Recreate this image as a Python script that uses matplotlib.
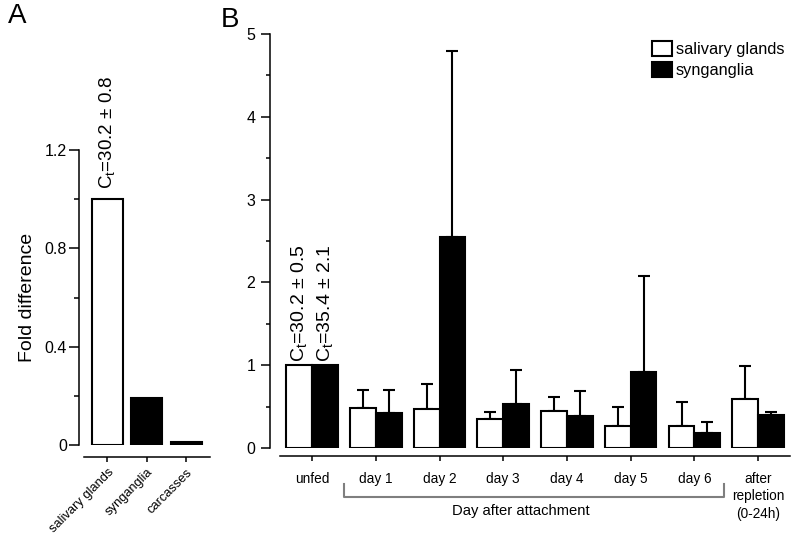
import matplotlib
matplotlib.use("Agg")
import matplotlib.pyplot as plt
import matplotlib.patches as mpatches
from matplotlib.ticker import MultipleLocator
import matplotlib.transforms as mtransforms
import numpy as np

plt.rcParams["font.family"] = ["Liberation Sans", "DejaVu Sans"]
plt.rcParams["mathtext.fontset"] = "custom"
plt.rcParams["mathtext.rm"] = "Liberation Sans"
plt.rcParams["mathtext.it"] = "Liberation Sans"
plt.rcParams["mathtext.default"] = "regular"

# ── Data ──────────────────────────────────────────────────────────────
# panel A: tissue distribution
tissues = ["salivary glands", "synganglia", "carcasses"]
tissue_fold = [1.0, 0.19, 0.012]
tissue_ct = "C$_t$=30.2 ± 0.8"

# panel B: time course
timepoints = ["unfed", "day 1", "day 2", "day 3", "day 4", "day 5", "day 6",
              "after\nrepletion\n(0-24h)"]
sg_mean = [1.0, 0.48, 0.47, 0.35, 0.45, 0.26, 0.26, 0.59]
sg_err = [0.0, 0.22, 0.30, 0.08, 0.17, 0.23, 0.29, 0.40]
syn_mean = [1.0, 0.42, 2.55, 0.53, 0.39, 0.92, 0.18, 0.40]
syn_err = [0.0, 0.28, 2.25, 0.41, 0.30, 1.16, 0.13, 0.03]
unfed_ct = ["C$_t$=30.2 ± 0.5", "C$_t$=35.4 ± 2.1"]
series = ["salivary glands", "synganglia"]
bracket_label = "Day after attachment"

W, H = 800, 536
fig = plt.figure(figsize=(W / 100, H / 100), dpi=100)

def px_axes(x0, y0, x1, y1):
    # pixel box (left, top, right, bottom) -> figure fraction
    return fig.add_axes([x0 / W, 1 - y1 / H, (x1 - x0) / W, (y1 - y0) / H])

def style_axes(ax, ytop, offset_px, xlo, xhi):
    for s in ("top", "right"):
        ax.spines[s].set_visible(False)
    ax.spines["left"].set_bounds(0, ytop)
    ax.spines["bottom"].set_position(("outward", offset_px * 0.72))
    ax.spines["bottom"].set_bounds(xlo, xhi)
    for s in ("left", "bottom"):
        ax.spines[s].set_linewidth(1.1)

# ── Panel A ───────────────────────────────────────────────────────────
axA = px_axes(79, 150, 210, 445)
xa = np.arange(len(tissues))
axA.bar(xa, tissue_fold, width=0.79, color=["white", "black", "black"],
        edgecolor="black", linewidth=1.5, zorder=3)
axA.set_xlim(-0.725, 2.61)
axA.set_ylim(0, 1.2)
style_axes(axA, 1.2, 12, -0.60, 2.61)
axA.yaxis.set_minor_locator(MultipleLocator(0.2))
axA.set_yticks([0, 0.4, 0.8, 1.2])
axA.set_yticklabels(["0", "0.4", "0.8", "1.2"])
axA.tick_params(axis="y", which="major", length=7.2, width=1.1, pad=1.5, labelsize=11.5)
axA.tick_params(axis="y", which="minor", length=3.6, width=1.1)
axA.set_xticks(xa)
axA.set_xticklabels(tissues, rotation=45, ha="right", rotation_mode="anchor", fontsize=9.3)
axA.tick_params(axis="x", length=3.6, width=1.1, pad=3)
axA.set_ylabel("Fold difference", fontsize=14, labelpad=6)
axA.text(xa[0], tissue_fold[0] + 0.04, tissue_ct, rotation=90, ha="center",
         va="bottom", fontsize=13.5, clip_on=False)

# ── Panel B ───────────────────────────────────────────────────────────
axB = px_axes(270, 34, 790, 448)
xb = np.arange(len(timepoints))
bw = 0.405
axB.bar(xb - bw / 2, sg_mean, width=bw, color="white", edgecolor="black",
        linewidth=1.5, zorder=3, label=series[0])
axB.bar(xb + bw / 2, syn_mean, width=bw, color="black", edgecolor="black",
        linewidth=1.5, zorder=3, label=series[1])
for off, m, e in ((-bw / 2, sg_mean, sg_err), (bw / 2, syn_mean, syn_err)):
    m = np.array(m)
    e = np.array(e)
    keep = e > 0
    axB.errorbar(xb[keep] + off, m[keep], yerr=[np.zeros(keep.sum()), e[keep]],
                 fmt="none", ecolor="black", elinewidth=1.5, capsize=4,
                 capthick=1.5, zorder=2)
axB.set_xlim(-0.66, 7.50)
axB.set_ylim(0, 5)
style_axes(axB, 5, 8, -0.50, 7.50)
axB.yaxis.set_major_locator(MultipleLocator(1))
axB.yaxis.set_minor_locator(MultipleLocator(0.5))
axB.tick_params(axis="y", which="major", length=6.5, width=1.1, pad=4, labelsize=11.5)
axB.tick_params(axis="y", which="minor", length=3, width=1.1)
axB.set_xticks(xb)
axB.set_xticklabels(timepoints, fontsize=9.8, linespacing=1.3)
axB.tick_params(axis="x", length=3.6, width=1.1, pad=8)
for i, txt in enumerate(unfed_ct):
    axB.text(xb[0] + (i - 0.5) * bw, 1.04, txt, rotation=90, ha="center",
             va="bottom", fontsize=14, clip_on=False)

# bracket under the attachment days
trans = mtransforms.blended_transform_factory(axB.transData, axB.transAxes)
axB.plot([0.50, 0.50, 6.47, 6.47], [-0.087, -0.118, -0.118, -0.087],
         color="#7f7f7f", lw=1.5, transform=trans, clip_on=False)
axB.text(3.28, -0.152, bracket_label, transform=trans, ha="center",
         va="center", fontsize=10.6)

handles = [mpatches.Patch(facecolor="white", edgecolor="black", linewidth=1.5, label=series[0]),
           mpatches.Patch(facecolor="black", edgecolor="black", linewidth=1.5, label=series[1])]
fig.legend(handles=handles, loc="upper left", bbox_to_anchor=(652 / W, 1 - 41 / H),
           frameon=False, fontsize=11.8, handlelength=1.2, handleheight=1.05,
           handletextpad=0.25, labelspacing=0.3, borderpad=0, borderaxespad=0)

fig.text(8 / W, 1 - 3 / H, "A", fontsize=20, ha="left", va="top")
fig.text(221 / W, 1 - 7 / H, "B", fontsize=20, ha="left", va="top")

fig.savefig("out.png", dpi=100)
